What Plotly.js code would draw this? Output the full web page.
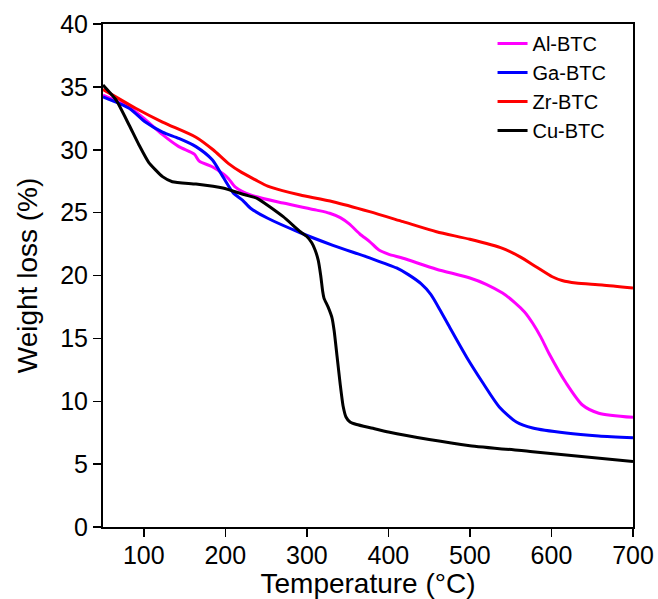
<!DOCTYPE html>
<html>
<head>
<meta charset="utf-8">
<script src="https://cdn.plot.ly/plotly-3.0.1.min.js"></script>
<style>html,body{margin:0;padding:0;background:#fff;}#chart{width:658px;height:599px;}</style>
</head>
<body>
<div id="chart"></div>
<script>
// Al-BTC (magenta)
const alT = [50, 82, 102, 123, 143, 162, 168, 184, 198, 204, 212, 231, 271, 312, 328, 341, 352, 365, 377, 388, 400, 418, 459, 500, 520, 540, 555, 567, 577, 587, 597, 618, 638, 658, 700];
const alW = [34.35, 33.4, 32.4, 31.2, 30.25, 29.65, 29.1, 28.65, 28.05, 27.7, 27.05, 26.4, 25.76, 25.2, 24.95, 24.6, 24.1, 23.3, 22.7, 22.05, 21.7, 21.37, 20.5, 19.8, 19.3, 18.6, 17.85, 17.1, 16.2, 15.1, 13.8, 11.45, 9.7, 9.05, 8.72];
// Ga-BTC (blue)
const gaT = [50, 82, 102, 123, 143, 164, 184, 198, 210, 221, 231, 252, 292, 332, 377, 410, 425, 440, 452, 463, 475, 496, 516, 536, 557, 577, 618, 658, 700];
const gaW = [34.2, 33.3, 32.2, 31.4, 30.9, 30.25, 29.2, 27.75, 26.55, 26.0, 25.35, 24.55, 23.4, 22.4, 21.4, 20.6, 20.05, 19.35, 18.5, 17.3, 15.9, 13.5, 11.45, 9.55, 8.35, 7.87, 7.47, 7.24, 7.1];
// Zr-BTC (red)
const zrT = [50, 90, 123, 164, 185, 204, 220, 237, 252, 270, 292, 332, 377, 418, 459, 500, 540, 561, 581, 601, 613, 630, 662, 700];
const zrW = [34.8, 33.3, 32.2, 31.0, 30.0, 28.9, 28.2, 27.6, 27.1, 26.75, 26.4, 25.87, 25.08, 24.28, 23.48, 22.88, 22.16, 21.5, 20.7, 19.9, 19.6, 19.4, 19.25, 19.0];
// Cu-BTC (black)
const cuT = [50, 66, 82, 94, 106, 123, 135, 164, 197, 225, 239, 271, 292, 300, 306, 310, 314, 317, 319.5, 321, 326, 331, 333.5, 337, 341, 344.5, 348, 353, 361, 381, 400, 450, 500, 577, 700];
const cuW = [35.15, 33.96, 31.97, 30.4, 29.0, 27.86, 27.46, 27.27, 26.96, 26.4, 26.14, 24.68, 23.48, 23.1, 22.6, 22.05, 21.2, 20.0, 18.7, 18.2, 17.5, 16.6, 15.6, 13.6, 11.3, 9.6, 8.75, 8.35, 8.15, 7.85, 7.55, 6.95, 6.47, 5.99, 5.2];

const names = ['Al-BTC', 'Ga-BTC', 'Zr-BTC', 'Cu-BTC'];
const colors = ['#ff00ff', '#0000ff', '#ff0000', '#000000'];
const smooth = [0.7, 0.7, 0.7, 0.5];
const xs = [alT, gaT, zrT, cuT];
const ys = [alW, gaW, zrW, cuW];

const traces = names.map((n, i) => ({
  x: xs[i], y: ys[i], name: n, type: 'scatter', mode: 'lines',
  line: {color: colors[i], width: 3, shape: 'spline', smoothing: smooth[i]}
}));

const font = {family: 'Arial, "Liberation Sans", sans-serif', color: '#000'};
const xTicks = [100, 200, 300, 400, 500, 600, 700];
const layout = {
  width: 658, height: 599,
  margin: {l: 103, r: 25, t: 24, b: 72},
  paper_bgcolor: '#fff', plot_bgcolor: '#fff',
  font: Object.assign({size: 24}, font),
  showlegend: true,
  legend: {x: 0.735, y: 1.0, xanchor: 'left', yanchor: 'top', bgcolor: 'rgba(0,0,0,0)',
           font: Object.assign({size: 20}, font), tracegroupgap: 0},
  xaxis: {range: [50, 700], tickvals: xTicks,
          ticks: 'outside', ticklen: 8, tickwidth: 1.5, tickcolor: '#000',
          ticklabelstandoff: -3,
          showline: true, linecolor: '#000', linewidth: 2, mirror: true,
          showgrid: false, zeroline: false, automargin: false,
          tickfont: Object.assign({size: 25}, font),
          title: {text: 'Temperature (°C)', font: Object.assign({size: 28}, font), standoff: 0}},
  yaxis: {range: [0, 40], dtick: 5,
          ticks: 'outside', ticklen: 8, tickwidth: 1.5, tickcolor: '#000',
          showline: true, linecolor: '#000', linewidth: 2, mirror: true,
          showgrid: false, zeroline: false, automargin: false,
          tickfont: Object.assign({size: 25}, font),
          title: {text: 'Weight loss (%)', font: Object.assign({size: 28}, font), standoff: 14}}
};
Plotly.newPlot('chart', traces, layout, {displayModeBar: false, staticPlot: true});
</script>
</body>
</html>
